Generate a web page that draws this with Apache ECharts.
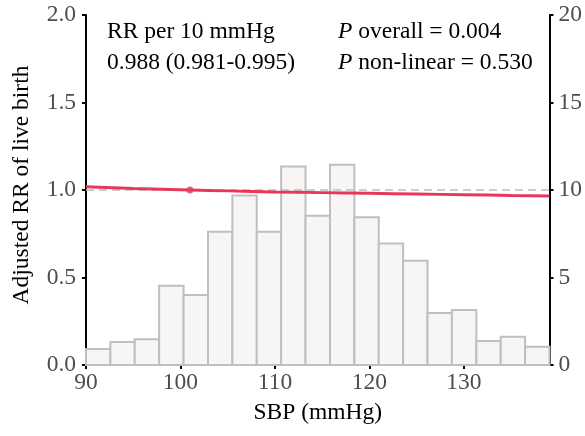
<!DOCTYPE html>
<html><head><meta charset="utf-8">
<script src="https://cdn.jsdelivr.net/npm/echarts@6/dist/echarts.min.js"></script>
<style>html,body{margin:0;padding:0;background:#fff}#c{width:585px;height:436px}</style>
</head><body><div id="c"></div>
<script>
// Histogram bin edges (SBP, mmHg) and bar heights (percent, right axis)
var binEdges = [90, 92.58, 95.16, 97.74, 100.33, 102.91, 105.49, 108.07, 110.65, 113.23, 115.82, 118.40, 120.98, 123.56, 126.14, 128.72, 131.31, 133.89, 136.47, 139.05];
var binPercent = [0.91, 1.31, 1.47, 4.53, 4.0, 7.62, 9.68, 7.62, 11.35, 8.53, 11.45, 8.44, 6.95, 5.96, 2.97, 3.14, 1.37, 1.62, 1.05];
// Spline curve: adjusted RR vs SBP
var curveX = [90, 95, 101, 105, 110, 115, 120, 125, 130, 135, 139.05];
var curveRR = [1.019, 1.009, 1.0, 0.995, 0.989, 0.985, 0.981, 0.977, 0.973, 0.969, 0.966];
var curveLo = [1.009, 1.004, 1.0, 0.993, 0.986, 0.981, 0.976, 0.971, 0.966, 0.961, 0.956];
var curveHi = [1.029, 1.014, 1.0, 0.997, 0.992, 0.989, 0.986, 0.983, 0.980, 0.977, 0.976];
var refPoint = [101, 1.0];
var leftTicks = [0, 0.5, 1.0, 1.5, 2.0];
var rightTicks = [0, 5, 10, 15, 20];
var xTicks = [90, 100, 110, 120, 130];

var F = 'Liberation Serif, Times New Roman, serif';
var FS = 23.5;
var chart = echarts.init(document.getElementById('c'), null, {renderer: 'canvas'});
var histData = binPercent.map(function (v, i) { return [binEdges[i], binEdges[i + 1], v]; });
var loData = curveX.map(function (x, i) { return [x, curveLo[i]]; });
var bandData = curveX.map(function (x, i) { return [x, curveHi[i] - curveLo[i]]; });
var lineData = curveX.map(function (x, i) { return [x, curveRR[i]]; });

chart.setOption({
  animation: false,
  backgroundColor: '#fff',
  grid: {left: 86, right: 34, top: 15, bottom: 71, containLabel: false},
  title: [
    {left: 107, top: 16, padding: 0, text: 'RR per 10 mmHg\n0.988 (0.981-0.995)',
     textStyle: {fontFamily: F, fontSize: FS, fontWeight: 'normal', color: '#000', lineHeight: 31}},
    {left: 338, top: 16, padding: 0, text: '{i|P} overall = 0.004\n{i|P} non-linear = 0.530',
     textStyle: {fontFamily: F, fontSize: FS, fontWeight: 'normal', color: '#000', lineHeight: 31,
       rich: {i: {fontFamily: F, fontSize: FS, fontStyle: 'italic', color: '#000', lineHeight: 31}}}}
  ],
  xAxis: {
    type: 'value', min: xTicks[0], max: binEdges[binEdges.length - 1], interval: 10,
    name: 'SBP (mmHg)', nameLocation: 'middle', nameGap: 36,
    nameTextStyle: {fontFamily: F, fontSize: FS, color: '#000'},
    axisLine: {show: true, onZero: false, lineStyle: {color: '#000', width: 2}},
    axisTick: {show: true, length: 4, lineStyle: {color: '#000', width: 2},
      customValues: xTicks},
    axisLabel: {fontFamily: F, fontSize: FS, color: '#4d4d4d', margin: 6,
      customValues: xTicks, formatter: function (v) { return String(v); }},
    splitLine: {show: false}
  },
  yAxis: [
    {type: 'value', min: 0, max: 2, interval: 0.5, position: 'left',
     name: 'Adjusted RR of live birth', nameLocation: 'middle', nameGap: 52,
     nameTextStyle: {fontFamily: F, fontSize: FS, color: '#000', padding: [0, 0, 0, 10]},
     axisLine: {show: true, lineStyle: {color: '#000', width: 2}},
     axisTick: {show: true, length: 4, lineStyle: {color: '#000', width: 2}},
     axisLabel: {fontFamily: F, fontSize: FS, color: '#4d4d4d', margin: 10,
       formatter: function (v) { return v.toFixed(1); }},
     splitLine: {show: false}},
    {type: 'value', min: 0, max: 20, interval: 5, position: 'right',
     axisLine: {show: true, lineStyle: {color: '#000', width: 2}},
     axisTick: {show: true, length: 4, lineStyle: {color: '#000', width: 2}},
     axisLabel: {fontFamily: F, fontSize: FS, color: '#4d4d4d', margin: 9},
     splitLine: {show: false}}
  ],
  series: [
    {type: 'custom', yAxisIndex: 1, data: histData, z: 1,
     renderItem: function (params, api) {
       var p0 = api.coord([api.value(0), 0]);
       var p1 = api.coord([api.value(1), api.value(2)]);
       return {type: 'rect', shape: {x: p0[0], y: p1[1], width: p1[0] - p0[0], height: p0[1] - p1[1]},
         style: {fill: '#f7f6f5', stroke: '#bfbfbf', lineWidth: 2}};
     }},
    {type: 'line', yAxisIndex: 0, data: loData, stack: 'ci', symbol: 'none', smooth: true,
     lineStyle: {opacity: 0}, z: 3},
    {type: 'line', yAxisIndex: 0, data: bandData, stack: 'ci', symbol: 'none', smooth: true,
     lineStyle: {opacity: 0}, areaStyle: {color: 'rgba(233,60,90,0.18)'}, z: 3},
    {type: 'line', yAxisIndex: 0, data: lineData, symbol: 'none', smooth: true,
     lineStyle: {color: '#e8385a', width: 3}, z: 5,
     markLine: {silent: true, symbol: 'none', label: {show: false},
       lineStyle: {color: '#bdbdbd', type: [8, 5], width: 1.5},
       data: [{yAxis: 1.0}]}},
    {type: 'scatter', yAxisIndex: 0, data: [refPoint], symbolSize: 7,
     itemStyle: {color: '#e8385a'}, z: 6}
  ]
});
</script></body></html>
